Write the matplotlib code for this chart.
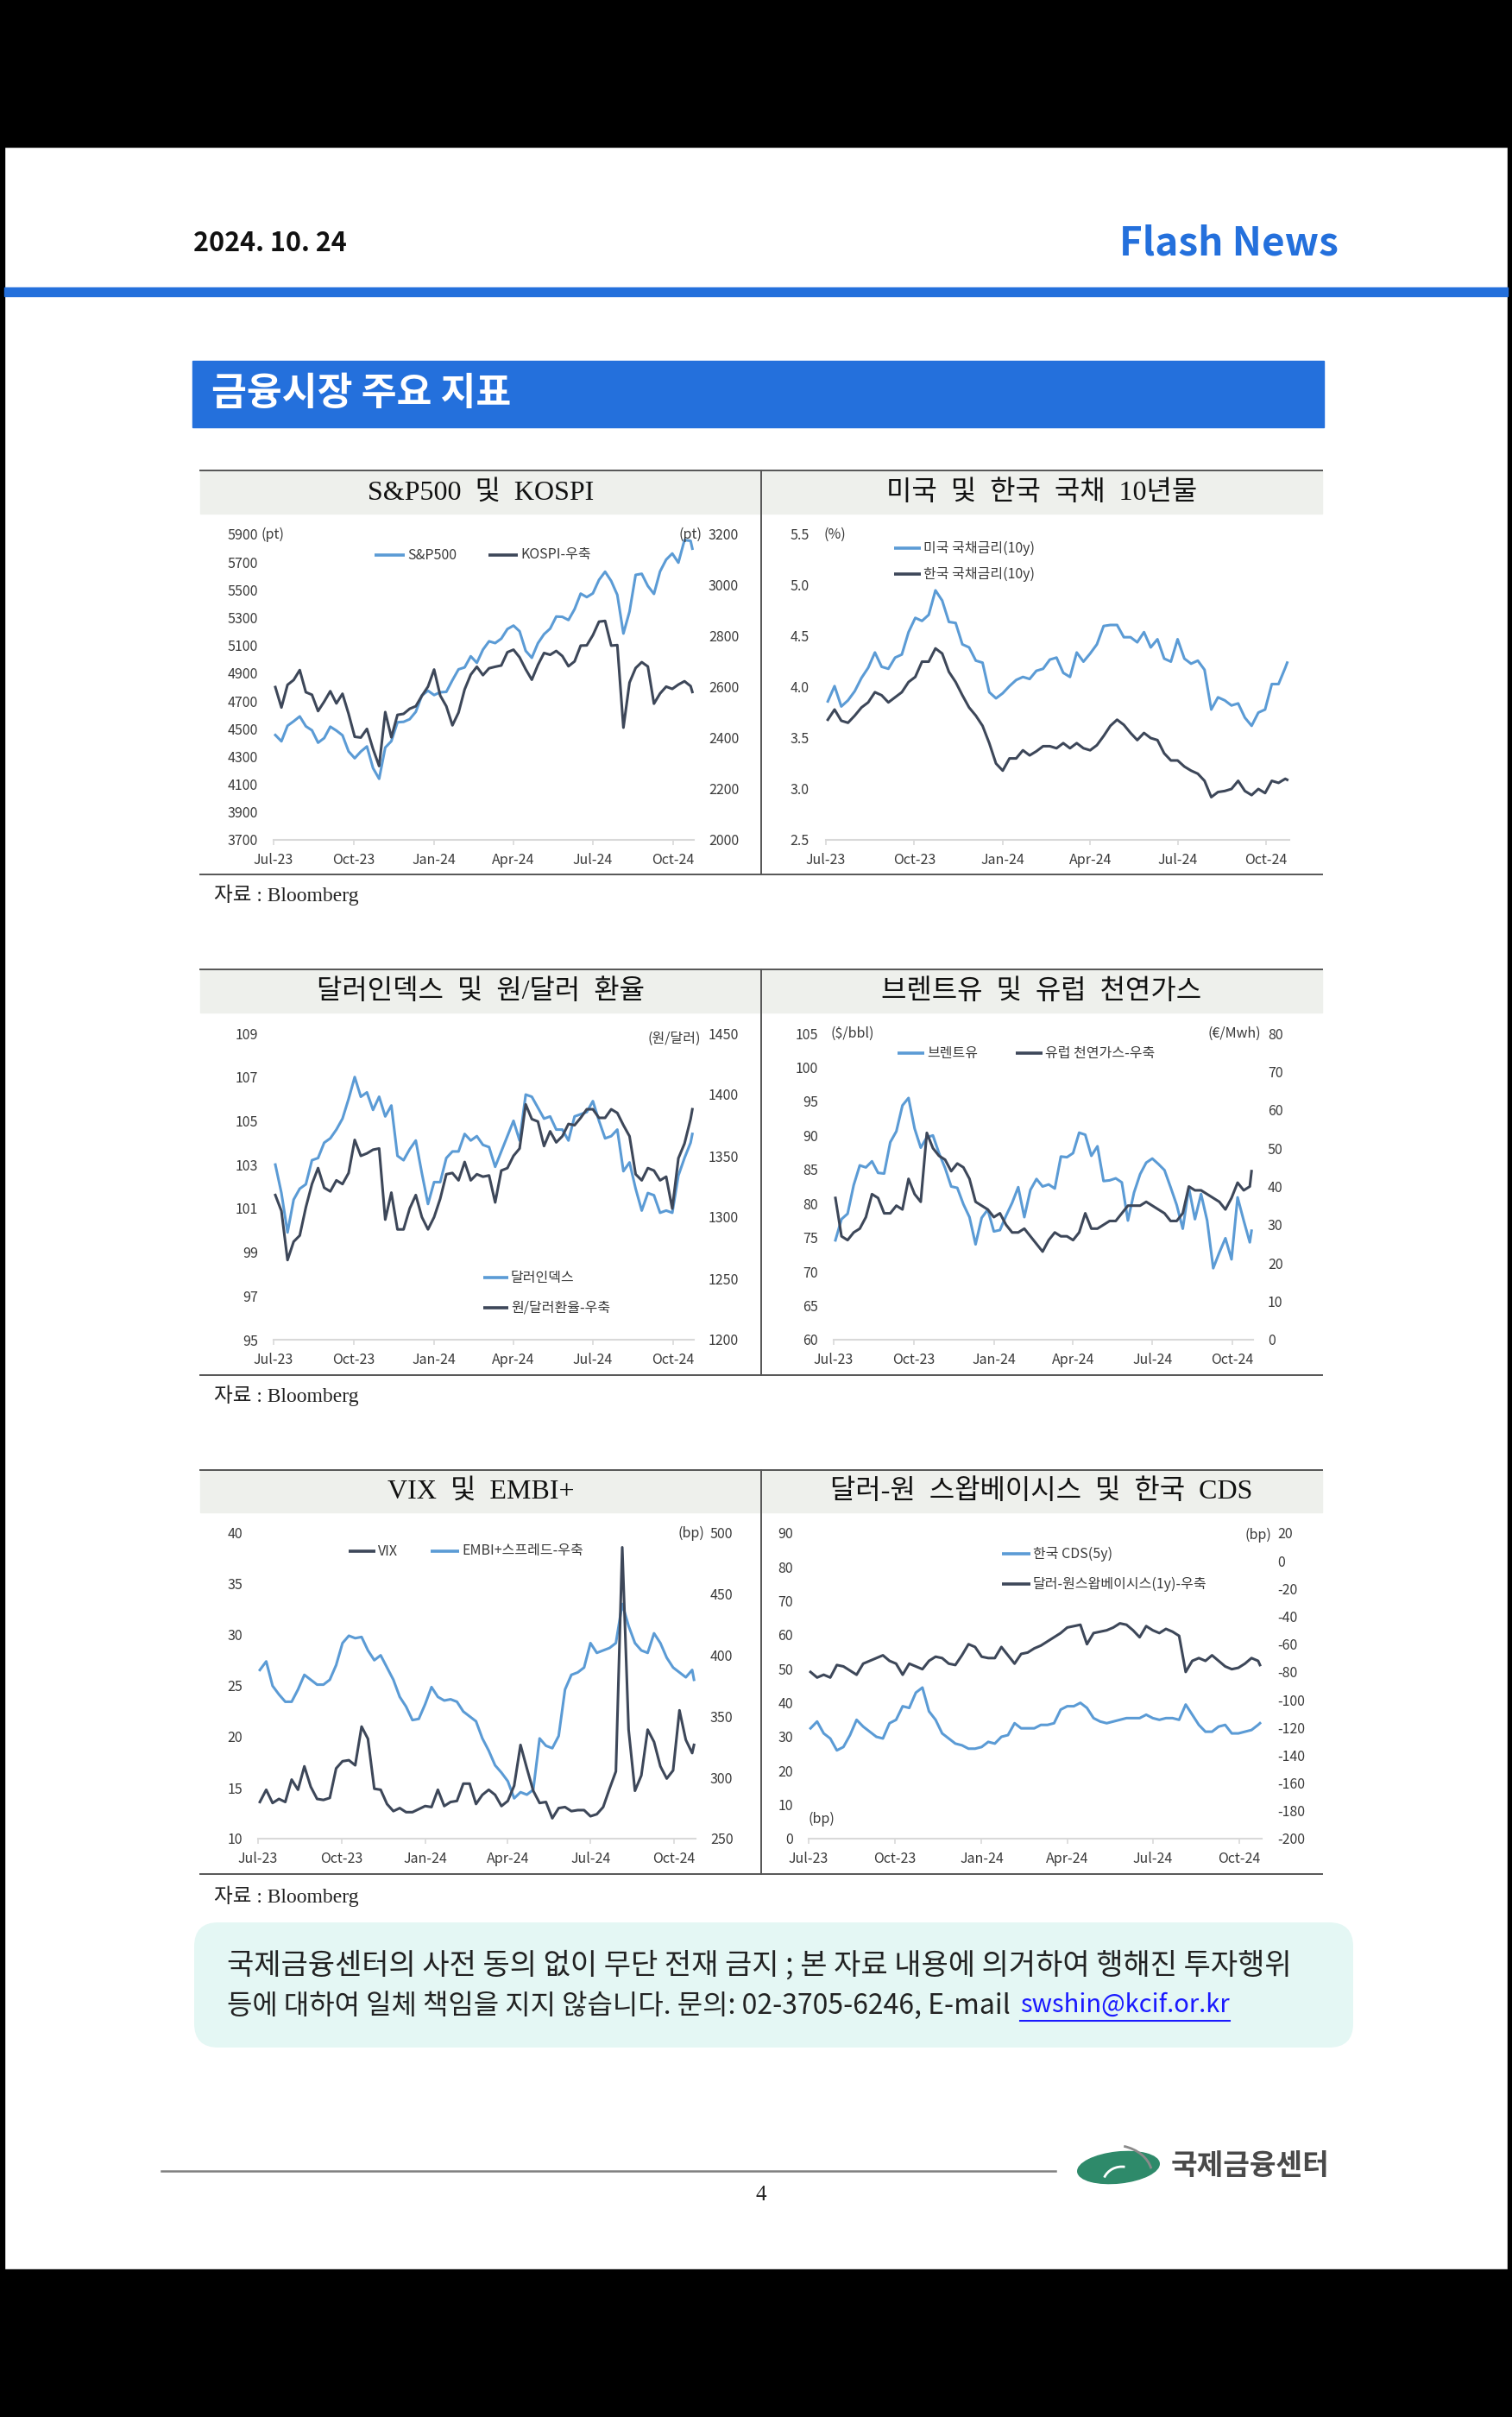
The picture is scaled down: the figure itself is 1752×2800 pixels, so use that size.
import matplotlib
matplotlib.use("Agg")
import matplotlib.pyplot as plt
import matplotlib.dates as mdates
from matplotlib.patches import Rectangle, FancyBboxPatch, Ellipse, Arc
import pandas as pd

plt.rcParams['font.family'] = ['Noto Sans CJK KR', 'DejaVu Sans']
plt.rcParams['axes.unicode_minus'] = False

W, H = 1752, 2800
LIGHT = '#5b9bd5'
DARK = '#3d4759'
TXT = '#3a3a3a'
BLUE = '#2470dc'
SERIF = ['Liberation Serif', 'Noto Sans CJK KR']

# ---- data (weekly) ----
dates = list(pd.date_range('2023-07-03', '2024-10-21', freq='W-MON')) + [pd.Timestamp('2024-10-23')]

spx = [4455, 4410, 4522, 4554, 4589, 4518, 4489, 4400, 4433, 4515,
       4487, 4453, 4337, 4288, 4336, 4373, 4217, 4140, 4365, 4411,
       4547, 4550, 4569, 4622, 4740, 4774, 4743, 4763, 4766, 4850,
       4928, 4942, 5022, 4975, 5070, 5130, 5117, 5149, 5218, 5243,
       5202, 5061, 5011, 5116, 5181, 5221, 5308, 5306, 5283, 5361,
       5473, 5448, 5475, 5572, 5631, 5564, 5464, 5186, 5344, 5608,
       5616, 5528, 5471, 5633, 5718, 5762, 5696, 5859, 5853, 5797]
kospi = [2600, 2520, 2609, 2628, 2667, 2580, 2570, 2506, 2543, 2584,
         2536, 2574, 2495, 2405, 2402, 2436, 2357, 2290, 2502, 2403,
         2491, 2495, 2515, 2525, 2566, 2602, 2669, 2567, 2525, 2450,
         2500, 2591, 2649, 2680, 2647, 2674, 2680, 2685, 2737, 2747,
         2717, 2670, 2629, 2687, 2734, 2727, 2742, 2722, 2682, 2701,
         2763, 2764, 2804, 2857, 2860, 2763, 2765, 2441, 2618, 2675,
         2698, 2681, 2535, 2575, 2602, 2593, 2610, 2623, 2604, 2581]

us10y = [3.86, 4.01, 3.81, 3.87, 3.96, 4.09, 4.19, 4.34, 4.20, 4.18,
         4.29, 4.32, 4.54, 4.68, 4.65, 4.71, 4.95, 4.85, 4.64, 4.63,
         4.42, 4.39, 4.26, 4.24, 3.95, 3.89, 3.94, 4.01, 4.07, 4.10,
         4.08, 4.16, 4.18, 4.27, 4.29, 4.14, 4.10, 4.34, 4.25, 4.33,
         4.42, 4.60, 4.61, 4.61, 4.49, 4.49, 4.44, 4.54, 4.39, 4.47,
         4.28, 4.25, 4.47, 4.28, 4.23, 4.26, 4.17, 3.78, 3.90, 3.87,
         3.82, 3.84, 3.70, 3.62, 3.75, 3.78, 4.03, 4.03, 4.19, 4.24]
kr10y = [3.68, 3.78, 3.67, 3.65, 3.72, 3.80, 3.85, 3.95, 3.92, 3.85,
         3.90, 3.95, 4.05, 4.10, 4.25, 4.25, 4.38, 4.33, 4.15, 4.05,
         3.92, 3.80, 3.72, 3.62, 3.45, 3.25, 3.18, 3.30, 3.30, 3.38,
         3.33, 3.37, 3.42, 3.42, 3.40, 3.45, 3.40, 3.45, 3.40, 3.38,
         3.43, 3.52, 3.62, 3.68, 3.63, 3.55, 3.48, 3.55, 3.50, 3.48,
         3.35, 3.28, 3.28, 3.22, 3.18, 3.15, 3.08, 2.92, 2.97, 2.98,
         3.00, 3.08, 2.98, 2.94, 3.00, 2.96, 3.08, 3.06, 3.10, 3.09]

dxy = [103.0, 101.7, 99.9, 101.4, 101.9, 102.1, 103.2, 103.3, 104.0, 104.2,
       104.6, 105.1, 106.0, 107.0, 106.1, 106.3, 105.5, 106.1, 105.2, 105.7,
       103.4, 103.2, 103.7, 104.1, 102.6, 101.2, 102.2, 102.2, 103.3, 103.6,
       103.6, 104.4, 104.1, 104.3, 103.9, 103.8, 102.9, 103.6, 104.3, 105.0,
       104.1, 106.2, 106.1, 105.6, 105.1, 105.2, 104.6, 104.6, 104.1, 105.2,
       105.3, 105.4, 105.9, 105.0, 104.2, 104.3, 104.6, 102.7, 103.1, 101.9,
       100.9, 101.7, 101.6, 100.8, 100.9, 100.8, 102.5, 103.3, 104.0, 104.4]
krw = [1318, 1305, 1265, 1280, 1285, 1308, 1327, 1340, 1324, 1321,
       1330, 1327, 1336, 1363, 1350, 1352, 1355, 1356, 1298, 1320,
       1290, 1290, 1307, 1318, 1300, 1290, 1300, 1315, 1335, 1336,
       1330, 1345, 1330, 1335, 1333, 1334, 1312, 1338, 1340, 1350,
       1356, 1392, 1380, 1378, 1358, 1370, 1361, 1366, 1376, 1375,
       1381, 1388, 1388, 1381, 1381, 1388, 1385, 1375, 1366, 1335,
       1330, 1340, 1338, 1330, 1333, 1307, 1348, 1360, 1380, 1388]

brent = [74.6, 77.7, 78.5, 82.7, 85.6, 85.3, 86.2, 84.5, 84.4, 89.0,
         90.6, 94.4, 95.5, 91.0, 88.2, 89.7, 90.0, 87.4, 85.2, 82.5,
         82.3, 79.9, 78.0, 74.0, 77.9, 79.1, 75.9, 76.1, 78.2, 80.1,
         82.4, 78.0, 82.0, 83.6, 82.5, 82.8, 82.2, 86.9, 86.8, 87.4,
         90.4, 90.1, 87.0, 88.4, 83.3, 83.4, 83.7, 83.1, 77.5, 81.6,
         84.3, 86.0, 86.6, 85.8, 84.9, 82.4, 79.8, 76.3, 82.3, 77.7,
         81.4, 77.5, 70.5, 72.8, 74.9, 71.8, 80.9, 77.5, 74.3, 76.0]
ttf = [37, 27, 26, 28, 29, 32, 38, 37, 33, 33,
       35, 34, 42, 38, 36, 54, 50, 48, 47, 44,
       46, 45, 42, 36, 35, 34, 32, 33, 30, 28,
       28, 29, 27, 25, 23, 26, 28, 27, 27, 26,
       28, 33, 29, 29, 30, 31, 31, 33, 35, 35,
       35, 36, 35, 34, 33, 31, 31, 33, 40, 39,
       39, 38, 37, 36, 34, 37, 41, 39, 40, 44]

vix = [13.6, 14.8, 13.5, 13.9, 13.6, 15.8, 14.8, 17.1, 15.1, 13.9,
       13.8, 14.0, 16.9, 17.6, 17.7, 17.2, 21.0, 19.8, 14.9, 14.8,
       13.4, 12.7, 13.0, 12.6, 12.6, 12.9, 13.2, 13.1, 14.8, 13.2,
       13.6, 13.7, 15.4, 15.4, 13.4, 14.3, 14.8, 14.3, 13.2, 13.7,
       15.2, 19.2, 16.9, 14.7, 13.5, 13.6, 12.0, 13.0, 13.1, 12.7,
       12.8, 12.8, 12.2, 12.4, 13.1, 14.9, 16.6, 38.6, 20.7, 14.7,
       16.2, 20.7, 19.5, 17.1, 15.9, 16.7, 22.6, 19.7, 18.4, 19.2]
embi = [388, 395, 375, 368, 362, 362, 372, 384, 380, 376,
        376, 380, 392, 410, 416, 414, 415, 404, 396, 400,
        390, 380, 366, 358, 347, 348, 360, 374, 366, 363,
        364, 362, 354, 350, 346, 332, 322, 310, 304, 297,
        283, 288, 286, 290, 332, 326, 324, 334, 372, 384,
        386, 390, 410, 402, 404, 406, 410, 442, 424, 410,
        404, 402, 418, 410, 398, 390, 386, 382, 388, 380]

cds = [32.5, 34.5, 31.0, 29.5, 26.0, 27.0, 30.5, 35.0, 33.0, 31.5,
       30.0, 29.5, 34.0, 35.0, 39.0, 38.5, 43.0, 44.5, 37.5, 35.0,
       31.0, 29.5, 28.0, 27.5, 26.5, 26.5, 27.0, 28.5, 28.0, 30.0,
       30.5, 34.0, 32.5, 32.5, 32.5, 33.5, 33.5, 34.0, 38.0, 39.0,
       39.0, 40.0, 38.5, 35.5, 34.5, 34.0, 34.5, 35.0, 35.5, 35.5,
       35.5, 36.5, 35.5, 35.0, 35.5, 35.5, 35.0, 39.5, 36.5, 33.5,
       31.5, 31.5, 33.0, 33.5, 31.0, 31.0, 31.5, 32.0, 33.5, 34.0]
swap = [-80, -84, -82, -84, -75, -76, -79, -82, -74, -72,
        -70, -68, -72, -74, -82, -74, -76, -78, -72, -69,
        -70, -74, -75, -68, -60, -62, -69, -70, -70, -62,
        -68, -74, -67, -66, -63, -61, -58, -55, -52, -48,
        -47, -46, -60, -52, -51, -50, -48, -45, -46, -50,
        -55, -47, -50, -52, -49, -51, -54, -80, -72, -70,
        -72, -68, -72, -76, -78, -77, -74, -70, -72, -75]

XMIN, XMAX = pd.Timestamp('2023-07-01'), pd.Timestamp('2024-10-25')
quarters = pd.date_range('2023-07-01', '2024-10-01', freq='QS')

fig = plt.figure(figsize=(W / 100, H / 100), dpi=100)

# background layer in pixel coordinates
bg = fig.add_axes([0, 0, 1, 1])
bg.set_xlim(0, W)
bg.set_ylim(H, 0)
bg.axis('off')

bg.add_patch(Rectangle((0, 0), W, 170, color='black'))
bg.add_patch(Rectangle((0, 2629), W, H - 2629, color='black'))
bg.add_patch(Rectangle((0, 0), 5, H, color='black'))
bg.add_patch(Rectangle((W - 5, 0), 5, H, color='black'))

# header
bg.text(224, 282, '2024. 10. 24', fontsize=22, fontweight='bold', color='#111111', va='center', ha='left')
bg.text(1551, 283, 'Flash News', fontsize=33, fontweight='bold', color=BLUE, va='center', ha='right')
bg.add_patch(Rectangle((5, 333), W - 10, 10, color=BLUE))
bg.add_patch(Rectangle((223, 418), 1311, 77, color=BLUE))
bg.text(245, 456, '금융시장 주요 지표', fontsize=32, fontweight='bold', color='white', va='center', ha='left')

# panel frames
rows = [(545, 595, 1013, 1037), (1123, 1173, 1593, 1617), (1703, 1752, 2171, 2197)]
titles = [('S&P500  및  KOSPI', '미국  및  한국  국채  10년물'),
          ('달러인덱스  및  원/달러  환율', '브렌트유  및  유럽  천연가스'),
          ('VIX  및  EMBI+', '달러-원  스왑베이시스  및  한국  CDS')]
for (top, band, bot, src), (t1, t2) in zip(rows, titles):
    bg.add_patch(Rectangle((232, top), 1300, band - top, color='#eef0ec'))
    bg.plot([232, 1532], [top, top], color='#555555', lw=1.4)
    bg.plot([232, 1532], [bot, bot], color='#555555', lw=1.4)
    bg.plot([882, 882], [top, bot], color='#555555', lw=1.4)
    bg.text(557, (top + band) / 2 + 1, t1, fontsize=23, family=SERIF, color='#111111', ha='center', va='center')
    bg.text(1207, (top + band) / 2 + 1, t2, fontsize=23, family=SERIF, color='#111111', ha='center', va='center')
    bg.text(248, src, '자료 : Bloomberg', fontsize=17, family=SERIF, color='#222222', ha='left', va='center')


def chart_axes(x_jul, x_oct, y_top, y_bot):
    x_end = x_jul + (x_oct - x_jul) * (XMAX - XMIN).days / 458
    ax = fig.add_axes([x_jul / W, 1 - y_bot / H, (x_end - x_jul) / W, (y_bot - y_top) / H])
    ax.patch.set_visible(False)
    ax.set_xlim(XMIN, XMAX)
    for s in ['top', 'right', 'left']:
        ax.spines[s].set_visible(False)
    ax.spines['bottom'].set_color('#d9d9d9')
    ax.spines['bottom'].set_linewidth(1.5)
    ax.set_xticks(quarters)
    ax.xaxis.set_major_formatter(mdates.DateFormatter('%b-%y'))
    ax.tick_params(axis='x', length=4, width=1.2, color='#d9d9d9', labelsize=11.5, labelcolor=TXT, pad=7)
    ax.tick_params(axis='y', length=0, labelsize=11.5, labelcolor=TXT, pad=13)
    return ax


def right_axis(ax, lo, hi, ticks, pad=12):
    r = ax.twinx()
    r.patch.set_visible(False)
    for s in r.spines.values():
        s.set_visible(False)
    r.set_ylim(lo, hi)
    r.set_yticks(ticks)
    r.tick_params(axis='y', length=0, labelsize=11.5, labelcolor=TXT, pad=pad)
    return r


LW = 2.2

# 1. S&P500 & KOSPI
ax1 = chart_axes(317, 780, 619, 973)
ax1.set_ylim(3700, 5900)
ax1.set_yticks(range(3700, 5901, 200))
ax1.plot(dates, spx, color=LIGHT, lw=LW)
r1 = right_axis(ax1, 2000, 3200, range(2000, 3201, 200))
r1.plot(dates, kospi, color=DARK, lw=LW)

# 2. US / KR 10y
ax2 = chart_axes(957, 1467, 619, 973)
ax2.set_ylim(2.5, 5.5)
ax2.set_yticks([2.5, 3.0, 3.5, 4.0, 4.5, 5.0, 5.5])
ax2.set_yticklabels(['%.1f' % v for v in [2.5, 3.0, 3.5, 4.0, 4.5, 5.0, 5.5]])
ax2.tick_params(axis='y', pad=14)
ax2.plot(dates, us10y, color=LIGHT, lw=LW)
ax2.plot(dates, kr10y, color=DARK, lw=LW)

# 3. Dollar index & KRW
ax3 = chart_axes(317, 780, 1197, 1552)
ax3.set_ylim(95, 109)
ax3.set_yticks(range(95, 110, 2))
ax3.plot(dates, dxy, color=LIGHT, lw=LW)
r3 = right_axis(ax3, 1200, 1450, range(1200, 1451, 50))
r3.plot(dates, krw, color=DARK, lw=LW)

# 4. Brent & TTF
ax4 = chart_axes(966, 1428, 1197, 1552)
ax4.set_ylim(60, 105)
ax4.set_yticks(range(60, 106, 5))
ax4.plot(dates, brent, color=LIGHT, lw=LW)
r4 = right_axis(ax4, 0, 80, range(0, 81, 10))
r4.plot(dates, ttf, color=DARK, lw=LW)

# 5. VIX & EMBI+
ax5 = chart_axes(299, 781, 1776, 2130)
ax5.set_ylim(10, 40)
ax5.set_yticks(range(10, 41, 5))
r5 = right_axis(ax5, 250, 500, range(250, 501, 50))
r5.plot(dates, embi, color=LIGHT, lw=LW)
ax5.plot(dates, vix, color=DARK, lw=LW)
ax5.set_zorder(r5.get_zorder() + 1)

# 6. Swap basis & CDS
ax6 = chart_axes(937, 1436, 1776, 2130)
ax6.set_ylim(0, 90)
ax6.set_yticks(range(0, 91, 10))
ax6.plot(dates, cds, color=LIGHT, lw=LW)
r6 = right_axis(ax6, -200, 20, range(-200, 21, 20), pad=13)
r6.plot(dates, swap, color=DARK, lw=LW)

# foreground layer: legends and units
fg = fig.add_axes([0, 0, 1, 1], zorder=20)
fg.set_xlim(0, W)
fg.set_ylim(H, 0)
fg.axis('off')


def key(x0, x1, y, color, label):
    fg.plot([x0, x1], [y, y], color=color, lw=2.6, solid_capstyle='butt')
    fg.text(x1 + 3, y, label, fontsize=11.5, color=TXT, va='center', ha='left')


def unit(x, y, s, ha='left'):
    fg.text(x, y, s, fontsize=11.5, color=TXT, va='center', ha=ha)


key(434, 469, 643, LIGHT, 'S&P500')
key(566, 600, 643, DARK, 'KOSPI-우축')
unit(303, 619, '(pt)')
unit(814, 619, '(pt)', ha='right')

key(1036, 1067, 635, LIGHT, '미국 국채금리(10y)')
key(1036, 1067, 665, DARK, '한국 국채금리(10y)')
unit(954, 619, '(%)')

key(560, 589, 1480, LIGHT, '달러인덱스')
key(560, 589, 1515, DARK, '원/달러환율-우축')
unit(812, 1203, '(원/달러)', ha='right')

key(1040, 1071, 1220, LIGHT, '브렌트유')
key(1177, 1208, 1220, DARK, '유럽 천연가스-우축')
unit(962, 1197, '($/bbl)')
unit(1461, 1197, '(€/Mwh)', ha='right')

key(404, 435, 1797, DARK, 'VIX')
key(499, 532, 1797, LIGHT, 'EMBI+스프레드-우축')
unit(816, 1776, '(bp)', ha='right')

key(1161, 1194, 1800, LIGHT, '한국 CDS(5y)')
key(1161, 1194, 1835, DARK, '달러-원스왑베이시스(1y)-우축')
unit(1473, 1778, '(bp)', ha='right')
unit(937, 2107, '(bp)')

# disclaimer box
bg.add_patch(FancyBboxPatch((225, 2227), 1343, 145, boxstyle='round,pad=0,rounding_size=28',
                            fc='#e4f7f4', ec='none'))
bg.text(263, 2277, '국제금융센터의 사전 동의 없이 무단 전재 금지 ; 본 자료 내용에 의거하여 행해진 투자행위',
        fontsize=24.5, color='#222222', va='center', ha='left')
pre = bg.text(263, 2323, '등에 대하여 일체 책임을 지지 않습니다. 문의: 02-3705-6246, E-mail ',
              fontsize=23, color='#222222', va='center', ha='left')
fig.canvas.draw()
x_mail = pre.get_window_extent().x1 + 4
mail = bg.text(x_mail, 2323, 'swshin@kcif.or.kr', fontsize=21, color='#1a1aff', va='center', ha='left')
fig.canvas.draw()
mail_end = mail.get_window_extent().x1
bg.plot([x_mail, mail_end], [2341, 2341], color='#1a1aff', lw=1.5)

# footer
bg.plot([187, 1223], [2515, 2515], color='#808080', lw=1.8)
bg.add_patch(Ellipse((1296, 2511), 95, 36, angle=-6, color='#2e8a6a'))
bg.add_patch(Arc((1300, 2530), 44, 40, theta1=200, theta2=280, color='white', lw=2))
bg.add_patch(Arc((1290, 2520), 90, 70, theta1=290, theta2=350, color='#8a8a8a', lw=2))
bg.text(1357, 2510, '국제금융센터', fontsize=24, fontweight='bold', color='#4a4a4a', va='center', ha='left')
bg.text(882, 2543, '4', fontsize=18, family=SERIF, color='#222222', va='center', ha='center')

fig.savefig('out.png', dpi=100, facecolor='white')
